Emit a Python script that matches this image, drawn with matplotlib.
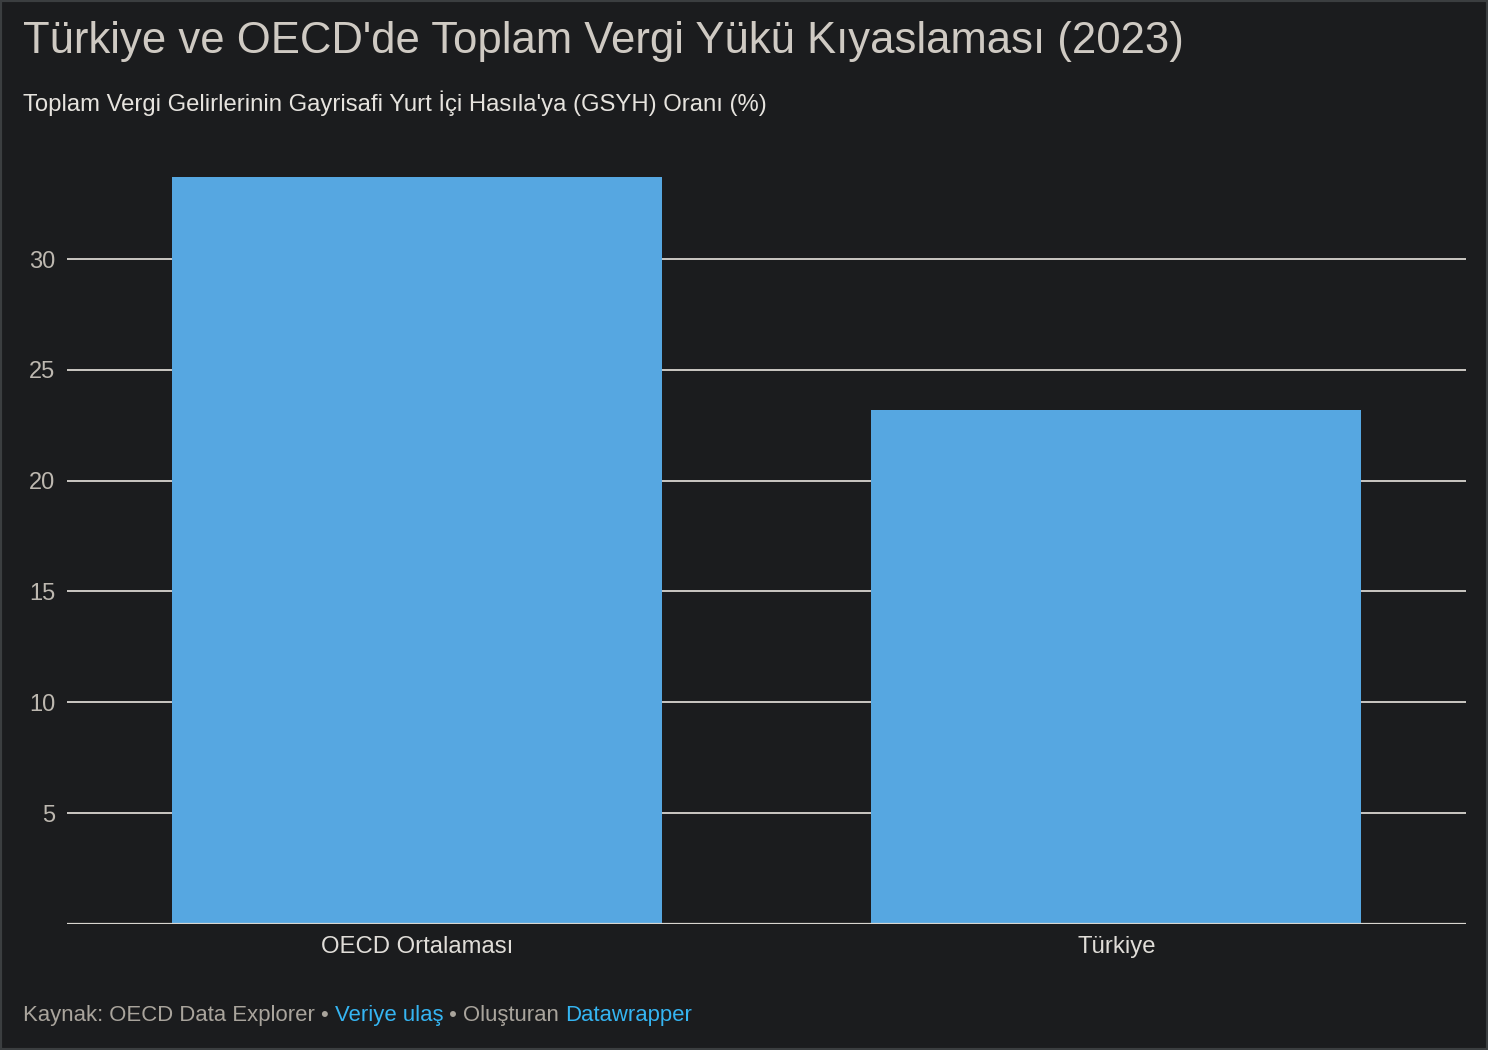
import matplotlib.pyplot as plt

# veriler
kategoriler = ["OECD Ortalaması", "Türkiye"]
degerler = [33.7, 23.2]
y_ticks = [5, 10, 15, 20, 25, 30]

bg = "#1b1c1e"
bar_renk = "#56a7e1"
izgara = "#d9d6d0"
yazi = "#cfcac3"

plt.rcParams['font.family'] = ['Liberation Sans', 'DejaVu Sans']

fig = plt.figure(figsize=(14.88, 10.5), dpi=100, facecolor=bg)
W, H = 1488, 1050

# eksen konumu (piksel)
x0, x1 = 67, 1466
y_alt, y_ust = 923.8, 150
ax = fig.add_axes([x0 / W, 1 - y_alt / H, (x1 - x0) / W, (y_alt - y_ust) / H])
ax.set_facecolor(bg)

ax.set_ylim(0, 34.92)
ax.set_xlim(-0.5, 1.5)

# izgara çizgileri
for t in y_ticks:
    ax.axhline(t, color=izgara, lw=1.3, zorder=1)
ax.axhline(0, color=izgara, lw=1.6, zorder=3)

ax.bar(range(len(kategoriler)), degerler, width=0.7, color=bar_renk, zorder=2)

ax.set_yticks(y_ticks)
ax.set_yticklabels([str(t) for t in y_ticks], color="#bdb8b0", fontsize=17)
ax.tick_params(axis='y', length=0, pad=8.5)
ax.set_xticks(range(len(kategoriler)))
ax.set_xticklabels(kategoriler, color="#e0ddd8", fontsize=17.2)
ax.tick_params(axis='x', length=0, pad=9)
for s in ax.spines.values():
    s.set_visible(False)

# başlıklar
fig.text(23 / W, 1 - 42 / H, "Türkiye ve OECD'de Toplam Vergi Yükü Kıyaslaması (2023)",
         color=yazi, fontsize=31.4, va='center', ha='left')
fig.text(23 / W, 1 - 103 / H, "Toplam Vergi Gelirlerinin Gayrisafi Yurt İçi Hasıla'ya (GSYH) Oranı (%)",
         color="#e6e3de", fontsize=17.2, va='center', ha='left')

# alt bilgi
parcalar = [("Kaynak: OECD Data Explorer • ", "#a9a49c"),
            ("Veriye ulaş", "#35b5f2"),
            (" • Oluşturan ", "#a9a49c"),
            ("Datawrapper", "#35b5f2")]
fig.canvas.draw()
r = fig.canvas.get_renderer()
x = 23
for metin, renk in parcalar:
    t = fig.text(x / W, 1 - 1015 / H, metin, color=renk, fontsize=15.9, va='center', ha='left')
    bb = t.get_window_extent(renderer=r)
    x += bb.width

# çerçeve
fig.patches.append(plt.Rectangle((0, 0), 1, 1, transform=fig.transFigure, fill=False,
                                 edgecolor="#3b3e40", lw=3))

fig.savefig("out.png", facecolor=bg)
